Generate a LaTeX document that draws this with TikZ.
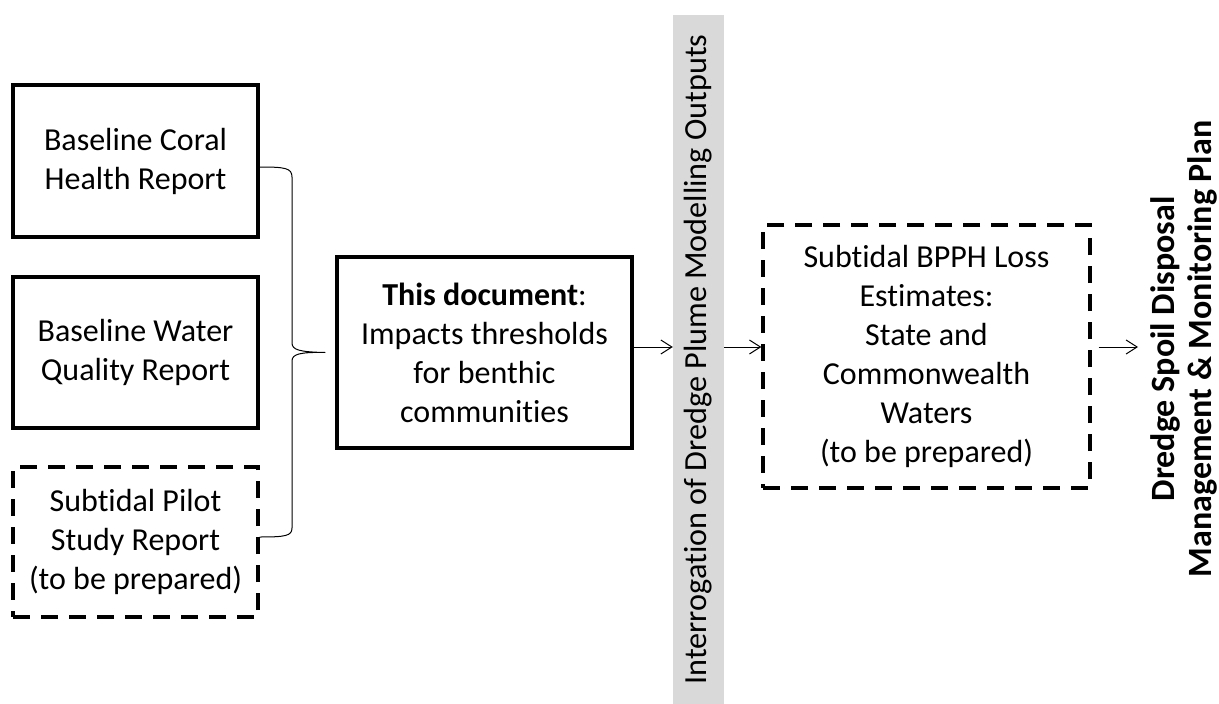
\documentclass[tikz,border=0pt]{standalone}
\usepackage{fontspec}
\setmainfont{Carlito}[Ligatures=CommonOff]
\usetikzlibrary{arrows.meta,calc}
\definecolor{barfill}{HTML}{D9D9D9}
\begin{document}
\begin{tikzpicture}[x=1pt,y=-1pt,
  txt/.style={font=\fontsize{32}{39}\selectfont, align=center},
  solidbox/.style={draw, line width=3.5pt, txt, inner sep=0pt},
  dashbox/.style={draw, line width=3.3pt, dash pattern=on 17pt off 11pt, txt, inner sep=0pt},
  arr/.style={line width=1pt, -{Straight Barb[length=11pt,width=14pt,line width=1pt]}},
  bracepath/.style={line width=1pt}
]
\useasboundingbox (0,0) rectangle (1219,704);
% gray bar
\node[rotate=90, fill=barfill, minimum width=689pt, minimum height=51pt, inner sep=0pt,
      font=\fontsize{32.2}{38}\selectfont] (g) at (698.5,359.5) {Interrogation of Dredge Plume Modelling Outputs};
% left boxes
\node[solidbox, minimum width=245pt, minimum height=152pt] (b1) at (135.5,161) {Baseline Coral\\Health Report};
\node[solidbox, minimum width=245pt, minimum height=151pt] (b2) at (135.5,352.5) {Baseline Water\\Quality Report};
\node[dashbox, minimum width=245pt, minimum height=150pt] (b3) at (135.5,542) {Subtidal Pilot\\Study Report\\(to be prepared)};
% middle box
\node[solidbox, minimum width=295pt, minimum height=191pt] (mid) at (484.5,352.5) {\textbf{This document}:\\Impacts thresholds\\for benthic\\communities};
% dashed box right
\node[dashbox, minimum width=327pt, minimum height=263pt] (db) at (926.5,356.5) {Subtidal BPPH Loss\\Estimates:\\State and\\Commonwealth\\Waters\\(to be prepared)};
% final text
\node[rotate=90, inner sep=0pt, align=center, font=\bfseries\fontsize{34}{37}\selectfont] (fin) at (1184,349) {Dredge Spoil Disposal\\Management \& Monitoring Plan};
% brace
\coordinate (tip) at ($(mid.west)+(-10,0)$);
\draw[bracepath] ($(b1.east)+(0,6)$) .. controls (285,167) and (292,168) .. (292,177) -- (292,343)
  .. controls (292,350) and (300,352) .. (tip)
  .. controls (300,352) and (292,354) .. (292,361) -- (292,528)
  .. controls (292,536) and (285,537) .. ($(b3.east)+(0,-5)$);
% arrows
\coordinate (ay) at (0,347);
\draw[arr] (mid.east |- ay) -- (g.north |- ay);
\draw[arr] (g.south |- ay) -- (db.west |- ay);
\draw[arr] ([xshift=7pt]db.east |- ay) -- (1138,347);
\end{tikzpicture}
\end{document}
